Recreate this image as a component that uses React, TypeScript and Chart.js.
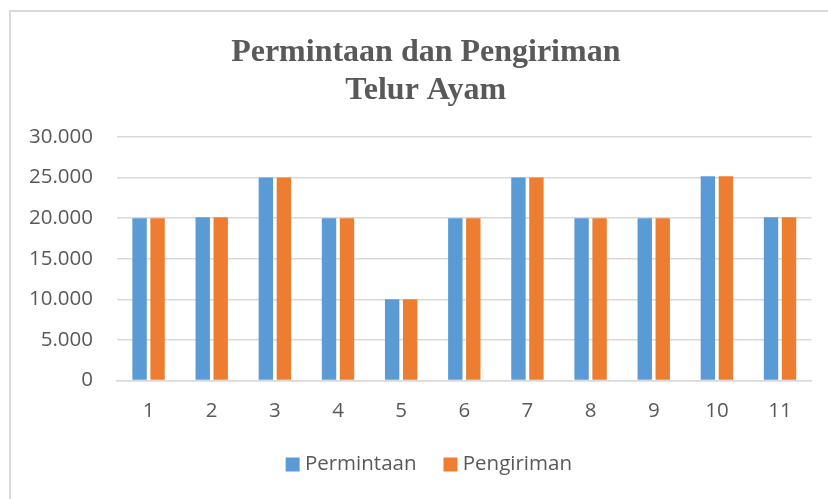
import React, { useEffect, useRef } from "react";
import { Chart, registerables } from "chart.js";

Chart.register(...registerables);

const categories = ["1", "2", "3", "4", "5", "6", "7", "8", "9", "10", "11"];
const permintaan = [20000, 20100, 25000, 20000, 10000, 20000, 25000, 20000, 20000, 25150, 20100];
const pengiriman = [20000, 20100, 25000, 20000, 10000, 20000, 25000, 20000, 20000, 25150, 20100];
const yTickValues = [0, 5000, 10000, 15000, 20000, 25000, 30000];
const yTickLabels = ["0", "5.000", "10.000", "15.000", "20.000", "25.000", "30.000"];
const titleLines = ["Permintaan dan Pengiriman", "Telur Ayam"];
const seriesNames = ["Permintaan", "Pengiriman"];

const TEXT = "#595959";
const GRID = "#d9d9d9";
const FONT = "'Open Sans', sans-serif";

const TITLE_SHIFT = 20;
const LEGEND_SHIFT = 25.5;

const framePlugin = {
  id: "frame",
  afterLayout(chart: any) {
    if (chart.titleBlock) {
      chart.titleBlock.left += TITLE_SHIFT;
      chart.titleBlock.right += TITLE_SHIFT;
    }
    if (chart.legend) {
      chart.legend.left += LEGEND_SHIFT;
      chart.legend.right += LEGEND_SHIFT;
    }
  },
  beforeDraw(chart: any) {
    const ctx = chart.ctx;
    ctx.save();
    ctx.fillStyle = GRID;
    ctx.fillRect(9, 10, 2, chart.height - 10);
    ctx.fillRect(9, 10, chart.width - 9, 2);
    ctx.restore();
  },
};

export default function App() {
  const ref = useRef<HTMLCanvasElement>(null);
  useEffect(() => {
    if (!ref.current) return;
    const chart = new Chart(ref.current, {
      type: "bar",
      data: {
        labels: categories,
        datasets: [
          { label: seriesNames[0], data: permintaan, backgroundColor: "#5B9BD5", borderWidth: 0 },
          { label: seriesNames[1], data: pengiriman, backgroundColor: "#ED7D31", borderWidth: 0 },
        ],
      },
      options: {
        responsive: false,
        animation: false,
        maintainAspectRatio: false,
        layout: { padding: { left: 0, right: 16.4, top: 0, bottom: 14.25 } },
        datasets: { bar: { categoryPercentage: 0.57, barPercentage: 0.8 } },
        plugins: {
          title: {
            display: true,
            text: titleLines,
            color: TEXT,
            font: { family: "'Liberation Serif', 'Times New Roman', serif", size: 32, weight: "bold", lineHeight: 1.1875 },
            padding: { top: 34, bottom: 27 },
          },
          legend: {
            display: true,
            position: "bottom",
            maxHeight: 78,
            labels: {
              usePointStyle: true,
              pointStyle: "rect",
              boxWidth: 4,
              boxHeight: 14,
              padding: 32,
              color: TEXT,
              font: { family: FONT, size: 20.5 },
            },
          },
          tooltip: { enabled: false },
        },
        scales: {
          x: {
            grid: { display: false, drawTicks: false },
            border: { display: true, color: GRID, width: 1.5 },
            ticks: { color: TEXT, font: { family: FONT, size: 20.5 }, padding: 18.7, maxRotation: 0 },
            afterFit: (scale: any) => {
              scale.height = 41.75;
            },
          },
          y: {
            min: 0,
            max: 30000,
            grid: { color: GRID, lineWidth: 1.5, drawTicks: false },
            border: { display: false },
            afterBuildTicks: (scale: any) => {
              scale.ticks = yTickValues.map((v) => ({ value: v }));
            },
            ticks: {
              color: TEXT,
              font: { family: FONT, size: 20.5 },
              padding: 24,
              callback: (value: any) => {
                const i = yTickValues.indexOf(Number(value));
                return i >= 0 ? yTickLabels[i] : "";
              },
            },
            afterFit: (scale: any) => {
              scale.width = 117;
            },
          },
        },
      },
      plugins: [framePlugin],
    } as any);
    return () => chart.destroy();
  }, []);
  return (
    <div style={{ position: "absolute", left: 0, top: 0, width: 828, height: 499, background: "#fff" }}>
      <canvas ref={ref} width={828} height={499} style={{ display: "block" }} />
    </div>
  );
}
